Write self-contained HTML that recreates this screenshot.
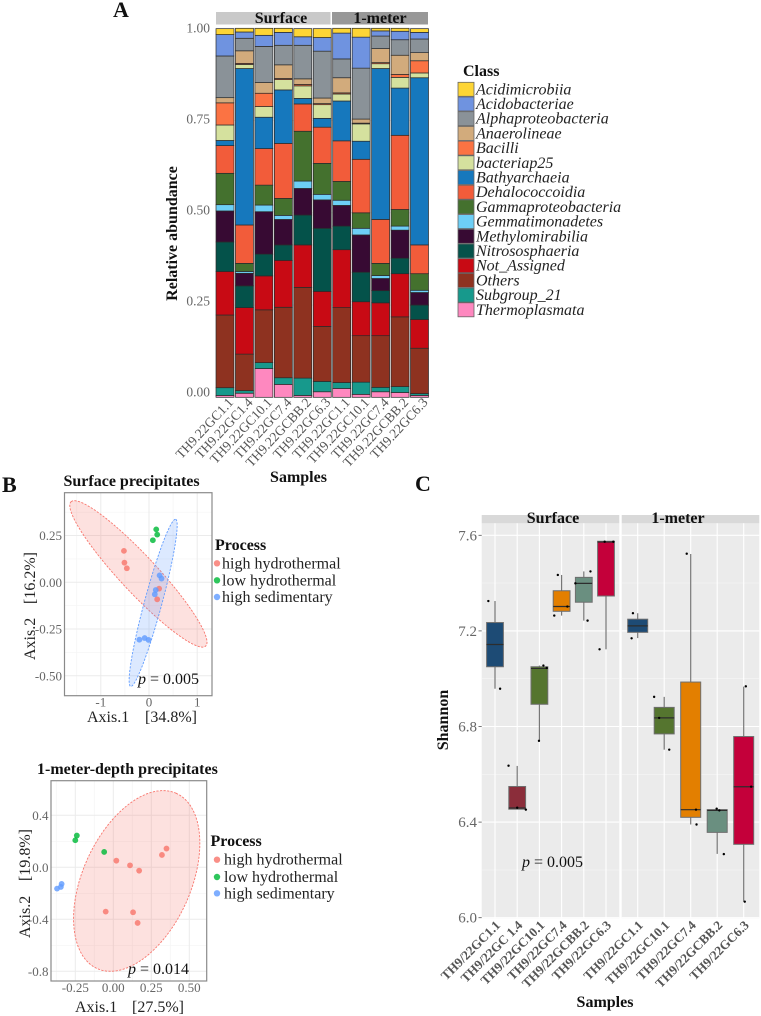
<!DOCTYPE html>
<html lang="en">
<head>
<meta charset="utf-8">
<title>Microbial community composition</title>
<style>
html,body{margin:0;padding:0;background:#fff;}
svg{display:block;font-family:"Liberation Serif","Noto Serif CJK SC",serif;}
.h{font-weight:bold;font-size:16px;fill:#111;}
.n{font-size:16px;fill:#222;}
.big{font-weight:bold;font-size:22px;fill:#111;}
</style>
</head>
<body>
<svg id="fig" xmlns="http://www.w3.org/2000/svg" width="761" height="1016" viewBox="0 0 761 1016">
<text class="big" x="113" y="17">A</text>
<text class="big" x="2" y="492">B</text>
<text class="big" x="415" y="491">C</text>

<rect x="216" y="12" width="114.500" height="12.500" fill="#c9c9c9"/>
<rect x="332" y="12" width="96" height="12.500" fill="#989898"/>
<text class="h" x="281" y="23" text-anchor="middle">Surface</text>
<text class="h" x="380" y="23" text-anchor="middle">1-meter</text>
<text class="h" transform="translate(177 233.500) rotate(-90)" text-anchor="middle">Relative abundance</text>
<text class="h" x="298.500" y="482" text-anchor="middle">Samples</text>
<text class="h" x="463" y="76">Class</text>

<text class="h" x="63.500" y="486">Surface precipitates</text>
<text class="n" x="87" y="722">Axis.1</text>
<text class="n" x="145" y="722">[34.8%]</text>
<text class="n" transform="translate(35 660) rotate(-90)">Axis.2</text>
<text class="n" transform="translate(35 604) rotate(-90)">[16.2%]</text>
<text class="h" x="215" y="550">Process</text>

<text class="h" x="37" y="774">1-meter-depth precipitates</text>
<text class="n" x="75" y="1012">Axis.1</text>
<text class="n" x="132" y="1012">[27.5%]</text>
<text class="n" transform="translate(30 938) rotate(-90)">Axis.2</text>
<text class="n" transform="translate(30 881) rotate(-90)">[19.8%]</text>
<text class="h" x="210.500" y="846">Process</text>

<text class="h" transform="translate(448 720) rotate(-90)" text-anchor="middle">Shannon</text>
<text class="h" x="605" y="1007" text-anchor="middle">Samples</text>
</svg>
<script>
/* ---------- Panel A data ---------- */
const stackSamples = ["TH9.22GC1.1","TH9.22GC1.4","TH9.22GC10.1","TH9.22GC7.4","TH9.22GCBB.2","TH9.22GC6.3","TH9.22GC1.1","TH9.22GC10.1","TH9.22GC7.4","TH9.22GCBB.2","TH9.22GC6.3"];
const stackClasses = ["Acidimicrobiia","Acidobacteriae","Alphaproteobacteria","Anaerolineae","Bacilli","bacteriap25","Bathyarchaeia","Dehalococcoidia","Gammaproteobacteria","Gemmatimonadetes","Methylomirabilia","Nitrososphaeria","Not_Assigned","Others","Subgroup_21","Thermoplasmata"];
const classColors = ["#fdd535","#6f93e0","#8a9298","#d2ab7c","#fb7343","#d5e19e","#1678bd","#f25c3a","#44712e","#6dcff6","#370a33","#04524a","#c80a14","#8e3220","#17998c","#fe88bf"];
const acidimicrobiia = [1.6,1.0,1.9,1.1,2.2,2.4,1.3,2.4,0.7,0.8,1.0];
const acidobacteriae = [5.8,1.7,3.0,3.5,2.3,3.7,7.0,8.4,1.4,2.3,1.8];
const alphaproteobacteria = [11.3,3.4,9.8,5.3,9.1,12.7,5.1,13.8,3.4,4.2,3.7];
const anaerolineae = [1.4,3.4,2.9,3.7,1.5,1.5,4.1,1.1,3.8,5.2,2.2];
const bacilli = [6.0,0.3,3.6,0.3,0.4,0.3,0.3,0.2,0.3,0.8,3.3];
const bacteriap25 = [4.2,1.1,2.9,2.8,3.4,3.7,1.9,4.7,1.3,2.9,1.3];
const bathyarchaeia = [1.4,42.4,8.5,14.5,1.5,2.4,10.8,4.9,40.9,12.8,45.3];
const dehalococcoidia = [7.5,10.4,9.9,14.9,7.4,9.8,11.0,14.5,11.9,20.1,7.8];
const gammaproteobacteria = [8.5,2.2,5.4,4.6,13.5,8.4,5.1,4.2,3.3,4.5,4.5];
const gemmatimonadetes = [1.7,0.5,1.8,1.1,2.0,1.5,1.4,1.8,0.8,1.1,0.6];
const methylomirabilia = [8.4,3.4,11.5,6.9,7.2,7.7,5.6,10.1,3.3,7.6,3.4];
const nitrososphaeria = [8.0,5.9,5.9,4.2,8.1,17.1,6.4,8.0,3.3,4.2,3.9];
const notAssigned = [11.8,12.6,9.2,12.7,11.5,9.5,15.7,9.2,8.9,11.7,7.8];
const others = [19.7,9.9,14.3,19.1,24.6,14.9,20.3,12.6,14.0,18.9,12.3];
const subgroup21 = [2.1,0.7,1.6,1.8,4.7,2.8,1.6,3.3,1.2,1.6,0.5];
const thermoplasmata = [0.5,1.1,7.8,3.5,0.5,1.5,2.4,0.8,1.5,1.3,0.5];
const stackSeries = [acidimicrobiia,acidobacteriae,alphaproteobacteria,anaerolineae,bacilli,bacteriap25,bathyarchaeia,dehalococcoidia,gammaproteobacteria,gemmatimonadetes,methylomirabilia,nitrososphaeria,notAssigned,others,subgroup21,thermoplasmata];
const stackTicks = [0,25,50,75,100];
const stackTickLabels = ["0.00","0.25","0.50","0.75","1.00"];

/* ---------- Panel B data (ordination axes) ---------- */
const processNames = ["high hydrothermal","low hydrothermal","high sedimentary"];
const processColors = ["#f8766d","#00ba38","#619cff"];
const surfaceHighX = [-0.52,-0.51,-0.46,0.21,0.17];
const surfaceHighY = [0.168,0.105,0.075,-0.034,-0.091];
const surfaceLowX = [0.15,0.17,0.08];
const surfaceLowY = [0.283,0.255,0.225];
const surfaceSedX = [0.22,0.26,0.14,0.12,-0.20,-0.09,-0.01];
const surfaceSedY = [0.037,0.02,-0.041,-0.064,-0.307,-0.298,-0.308];
const surfaceHighEllipse = [-0.22,0.045,-1.397,0.386,0.277,0.067];
const surfaceSedEllipse = [0.086,-0.11,0.467,0.447,0.175,-0.012];
const surfaceXTicks = [-1,0,1];
const surfaceXMinor = [-1.5,-0.5,0.5];
const surfaceYTicks = [0.25,0,-0.25,-0.5];
const surfaceYMinor = [0.375,0.125,-0.125,-0.375];
const surfaceXLabels = ["-1","0","1"];
const surfaceYLabels = ["0.25","0.00","-0.25","-0.50"];

const depthHighX = [0.02,0.11,0.17,0.32,0.35,-0.05,0.13,0.16];
const depthHighY = [0.051,0.015,-0.026,0.095,0.144,-0.341,-0.346,-0.428];
const depthLowX = [-0.24,-0.25,-0.06];
const depthLowY = [0.244,0.208,0.118];
const depthSedX = [-0.34,-0.345,-0.37];
const depthSedY = [-0.128,-0.151,-0.164];
const depthHighEllipse = [0.154,-0.105,0.259,0.675,0.325,-0.167];
const depthXTicks = [-0.25,0,0.25,0.5];
const depthXMinor = [-0.375,-0.125,0.125,0.375];
const depthYTicks = [0.4,0,-0.4,-0.8];
const depthYMinor = [0.2,-0.2,-0.6];
const depthXLabels = ["-0.25","0.00","0.25","0.50"];
const depthYLabels = ["0.4","0.0","-0.4","-0.8"];

/* ---------- Panel C data ---------- */
const shannonTicks = [7.6,7.2,6.8,6.4,6.0];
const shannonMinor = [7.4,7.0,6.6,6.2];
const shannonTickLabels = ["7.6","7.2","6.8","6.4","6.0"];
const surfaceBoxSamples = ["TH9/22GC1.1","TH9/22GC 1.4","TH9/22GC10.1","TH9/22GC7.4","TH9/22GCBB.2","TH9/22GC6.3"];
const surfaceBoxColors = ["#1d4b75","#8b2d3a","#55752f","#e37f00","#6a8f80","#c4003a"];
const surfaceWhiskerLow = [6.958,6.454,6.74,7.264,7.243,7.123];
const surfaceQ1 = [7.05,6.454,6.893,7.282,7.32,7.346];
const surfaceMedian = [7.143,6.459,7.043,7.302,7.399,7.572];
const surfaceQ3 = [7.235,6.549,7.05,7.368,7.424,7.575];
const surfaceWhiskerHigh = [7.325,6.635,7.055,7.434,7.449,7.575];
const surfaceDots = [[7.325,6.958],[6.636,6.46,6.452],[7.055,7.045,6.74],[7.434,7.302,7.264],[7.449,7.399,7.243],[7.573,7.573,7.123]];
const surfaceJitter = [[-0.30,0.23],[-0.39,0,0.39],[0.18,0.33,-0.02],[-0.17,0.26,-0.33],[0.30,-0.38,0.17],[-0.06,0.33,-0.29]];
const meterBoxSamples = ["TH9/22GC1.1","TH9/22GC10.1","TH9/22GC7.4","TH9/22GCBB.2","TH9/22GC6.3"];
const meterBoxColors = ["#1d4b75","#55752f","#e37f00","#6a8f80","#c4003a"];
const meterWhiskerLow = [7.17,6.703,6.39,6.267,6.067];
const meterQ1 = [7.194,6.769,6.42,6.357,6.307];
const meterMedian = [7.221,6.836,6.452,6.449,6.548];
const meterQ3 = [7.249,6.88,6.986,6.452,6.758];
const meterWhiskerHigh = [7.274,6.924,7.522,6.456,6.967];
const meterDots = [[7.274,7.169],[6.924,6.836,6.703],[7.523,6.452,6.39],[6.456,6.449,6.266],[6.968,6.548,6.067]];
const meterJitter = [[-0.18,-0.23],[-0.38,-0.19,0.19],[-0.15,0.2,0.22],[-0.02,0.08,0.25],[0.08,0.28,0.04]];

/* ---------- helpers ---------- */
const fig = document.getElementById('fig');
const NS = 'http://www.w3.org/2000/svg';
function mk(tag, attrs, text) {
  const e = document.createElementNS(NS, tag);
  for (const k in attrs) e.setAttribute(k, attrs[k]);
  if (text !== undefined) e.textContent = text;
  fig.appendChild(e);
  return e;
}
let el;

/* ---------- Panel A ---------- */
const xStack = i => 225 + i * 19.45;
const yStack = v => 397.3 - v * 3.69;
const yStackLabel = v => 392 - v * 3.64;

stackTicks.forEach((t, i) => {
  el = mk('line', {x1:216, x2:428, y1:yStack(t), y2:yStack(t), stroke:'#ececec', 'stroke-width':0.8});
  
  
  el = mk('text', {x:210, y:yStackLabel(t) + 4.5, 'text-anchor':'end', 'font-size':13.5, fill:'#666'}, stackTickLabels[i]);
  
  
});
stackSamples.forEach((s, i) => {
  let base = 0;
  for (let c = stackSeries.length - 1; c >= 0; c--) {
    const v = stackSeries[c][i];
    el = mk('rect', {x:xStack(i) - 9, y:yStack(base + v), width:18, height:yStack(base) - yStack(base + v), fill:classColors[c], stroke:'#2a2a2a', 'stroke-width':0.7});
    
    
    base += v;
  }
  const lx = xStack(i) + 9, ly = 403;
  el = mk('text', {x:lx, y:ly, 'text-anchor':'end', 'font-size':13.5, fill:'#555', transform:'rotate(-47 ' + lx + ' ' + ly + ')'}, s);
  
  
});
stackClasses.forEach((name, i) => {
  const cy = 89.3 + i * 14.7;
  el = mk('rect', {x:458, y:cy - 7, width:16, height:14, fill:classColors[i], stroke:'#666', 'stroke-width':0.8});
  
  
  el = mk('text', {x:476, y:cy + 5, 'font-size':16, 'font-style':'italic', fill:'#222'}, name);
  
  
});

/* ---------- Panel B ---------- */
function ordinationFrame(box, sx, sy, xTicks, xMinor, yTicks, yMinor, xLabels, yLabels) {
  xMinor.forEach(t => {
    el = mk('line', {x1:sx(t), x2:sx(t), y1:box[1], y2:box[3], stroke:'#f4f4f4', 'stroke-width':0.7});
    
    
  });
  yMinor.forEach(t => {
    el = mk('line', {x1:box[0], x2:box[2], y1:sy(t), y2:sy(t), stroke:'#f4f4f4', 'stroke-width':0.7});
    
    
  });
  xTicks.forEach((t, i) => {
    el = mk('line', {x1:sx(t), x2:sx(t), y1:box[1], y2:box[3], stroke:'#ebebeb', 'stroke-width':1});
    
    
    el = mk('text', {x:sx(t), y:box[3] + 11, 'text-anchor':'middle', 'font-size':13, fill:'#666'}, xLabels[i]);
    
    
  });
  yTicks.forEach((t, i) => {
    el = mk('line', {x1:box[0], x2:box[2], y1:sy(t), y2:sy(t), stroke:'#ebebeb', 'stroke-width':1});
    
    
    el = mk('text', {x:box[0] - 2.5, y:sy(t) + 4.5, 'text-anchor':'end', 'font-size':13, fill:'#666'}, yLabels[i]);
    
    
  });
}
function ellipsePath(p, sx, sy) {
  let d = '';
  for (let k = 0; k <= 72; k++) {
    const t = k / 72 * 2 * Math.PI;
    const x = p[0] + p[2] * Math.cos(t) + p[4] * Math.sin(t);
    const y = p[1] + p[3] * Math.cos(t) + p[5] * Math.sin(t);
    d += (k ? 'L' : 'M') + sx(x).toFixed(2) + ' ' + sy(y).toFixed(2);
  }
  return d + 'Z';
}
function drawPoints(xs, ys, color, sx, sy) {
  xs.forEach((x, i) => {
    el = mk('circle', {cx:sx(x), cy:sy(ys[i]), r:2.9, fill:color, 'fill-opacity':0.82});
    
    
  });
}
function drawProcessLegend(rows, textX) {
  processNames.forEach((name, i) => {
    el = mk('circle', {cx:217, cy:rows[i], r:3.2, fill:processColors[i], 'fill-opacity':0.82});
    
    
    el = mk('text', {x:textX, y:rows[i] + 5, 'font-size':16, fill:'#222'}, name);
    
    
  });
}

const sxSurface = v => 149 + v * 48.2;
const sySurface = v => 582.3 - v * 187;
const surfaceBox = [64.5,492.7,212,695.7];
ordinationFrame(surfaceBox, sxSurface, sySurface, surfaceXTicks, surfaceXMinor, surfaceYTicks, surfaceYMinor, surfaceXLabels, surfaceYLabels);
el = mk('path', {d:ellipsePath(surfaceHighEllipse, sxSurface, sySurface), fill:'#f8766d', 'fill-opacity':0.22, stroke:'#f8766d', 'stroke-width':0.9, 'stroke-dasharray':'2.2 1.4'});


el = mk('path', {d:ellipsePath(surfaceSedEllipse, sxSurface, sySurface), fill:'#619cff', 'fill-opacity':0.22, stroke:'#619cff', 'stroke-width':0.9, 'stroke-dasharray':'2.2 1.4'});


drawPoints(surfaceHighX, surfaceHighY, processColors[0], sxSurface, sySurface);
drawPoints(surfaceLowX, surfaceLowY, processColors[1], sxSurface, sySurface);
drawPoints(surfaceSedX, surfaceSedY, processColors[2], sxSurface, sySurface);
el = mk('rect', {x:surfaceBox[0], y:surfaceBox[1], width:surfaceBox[2] - surfaceBox[0], height:surfaceBox[3] - surfaceBox[1], fill:'none', stroke:'#8a8a8a', 'stroke-width':1.2});


drawProcessLegend([563.3,580.3,597], 222);

const sxDepth = v => 113.3 + v * 152;
const syDepth = v => 867.3 - v * 130;
const depthBox = [51,780.7,206.7,981];
ordinationFrame(depthBox, sxDepth, syDepth, depthXTicks, depthXMinor, depthYTicks, depthYMinor, depthXLabels, depthYLabels);
el = mk('path', {d:ellipsePath(depthHighEllipse, sxDepth, syDepth), fill:'#f8766d', 'fill-opacity':0.22, stroke:'#f8766d', 'stroke-width':0.9, 'stroke-dasharray':'2.2 1.4'});


drawPoints(depthHighX, depthHighY, processColors[0], sxDepth, syDepth);
drawPoints(depthLowX, depthLowY, processColors[1], sxDepth, syDepth);
drawPoints(depthSedX, depthSedY, processColors[2], sxDepth, syDepth);
el = mk('rect', {x:depthBox[0], y:depthBox[1], width:depthBox[2] - depthBox[0], height:depthBox[3] - depthBox[1], fill:'none', stroke:'#8a8a8a', 'stroke-width':1.2});


drawProcessLegend([859.7,877,893.3], 224);

function pValue(x, y, rest, name) {
  el = mk('text', {x:x, y:y, 'font-size':16, fill:'#111'});
  
  
  const a = document.createElementNS(NS, 'tspan');
  a.setAttribute('font-style', 'italic');
  a.textContent = 'p';
  el.appendChild(a);
  el.appendChild(document.createTextNode(' = ' + rest));
}
pValue(138, 684, '0.005', 'surface-p-value');
pValue(128, 974, '0.014', 'depth-p-value');

/* ---------- Panel C ---------- */
const yShannon = v => 535.3 + (7.6 - v) * 239;
const xSurfaceBox = i => 495 + i * 22.2;
const xMeterBox = i => 637.7 + i * 26.5;

function shannonPanel(x0, x1, xf, samples, colors, low, q1, med, q3, high, dots, jitter, step, boxW, label, stripX) {
  el = mk('rect', {x:x0, y:523.3, width:x1 - x0, height:395, fill:'#ebebeb'});
  
  
  el = mk('rect', {x:x0, y:515, width:x1 - x0, height:8.3, fill:'#d9d9d9'});
  
  
  el = mk('text', {x:stripX, y:523, 'text-anchor':'middle', 'font-size':16, 'font-weight':'bold', fill:'#111'}, label);
  
  
  shannonMinor.forEach(t => {
    el = mk('line', {x1:x0, x2:x1, y1:yShannon(t), y2:yShannon(t), stroke:'#f5f5f5', 'stroke-width':0.6});
    
    
  });
  shannonTicks.forEach(t => {
    el = mk('line', {x1:x0, x2:x1, y1:yShannon(t), y2:yShannon(t), stroke:'#fff', 'stroke-width':1.1});
    
    
  });
  samples.forEach((s, i) => {
    const cx = xf(i);
    el = mk('line', {x1:cx, x2:cx, y1:523.3, y2:918.3, stroke:'#fff', 'stroke-width':1.1});
    
    
    el = mk('line', {x1:cx, x2:cx, y1:yShannon(high[i]), y2:yShannon(low[i]), stroke:'#777', 'stroke-width':1.2});
    
    
    el = mk('rect', {x:cx - boxW / 2, y:yShannon(q3[i]), width:boxW, height:yShannon(q1[i]) - yShannon(q3[i]), fill:colors[i], stroke:'#6e6e6e', 'stroke-width':1});
    
    
    el = mk('line', {x1:cx - boxW / 2, x2:cx + boxW / 2, y1:yShannon(med[i]), y2:yShannon(med[i]), stroke:'#2d2d2d', 'stroke-width':1.2});
    
    
    dots[i].forEach((d, k) => {
      el = mk('circle', {cx:cx + jitter[i][k] * step, cy:yShannon(d), r:1.2, fill:'#000'});
      
      
    });
    const lx = cx + 6, ly = 926;
    el = mk('text', {x:lx, y:ly, 'text-anchor':'end', 'font-size':13, 'font-weight':'bold', fill:'#555', transform:'rotate(-45 ' + lx + ' ' + ly + ')'}, s);
    
    
  });
}
shannonPanel(481.7,619.3,xSurfaceBox,surfaceBoxSamples,surfaceBoxColors,surfaceWhiskerLow,surfaceQ1,surfaceMedian,surfaceQ3,surfaceWhiskerHigh,surfaceDots,surfaceJitter,22.2,16.8,'Surface',553);
shannonPanel(621.7,759.3,xMeterBox,meterBoxSamples,meterBoxColors,meterWhiskerLow,meterQ1,meterMedian,meterQ3,meterWhiskerHigh,meterDots,meterJitter,26.5,20,'1-meter',678);
shannonTicks.forEach((t, i) => {
  el = mk('text', {x:477, y:yShannon(t) + 5, 'text-anchor':'end', 'font-size':15, fill:'#666'}, shannonTickLabels[i]);
  
  
  el = mk('line', {x1:478.5, x2:481.7, y1:yShannon(t), y2:yShannon(t), stroke:'#555', 'stroke-width':0.8});
  
  
});
pValue(522, 867, '0.005', 'shannon-p-value');
</script>
</body>
</html>
